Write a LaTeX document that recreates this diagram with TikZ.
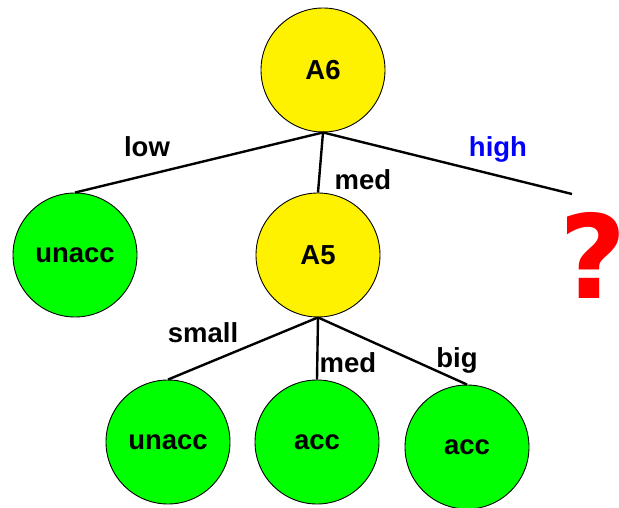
\documentclass[tikz,border=0pt]{standalone}
\usepackage{fontspec}
\setmainfont{Liberation Sans}
\newfontfamily\qfont{DejaVu Sans}
\begin{document}
\begin{tikzpicture}[x=1pt,y=-1pt,
  every node/.style={font=\bfseries\fontsize{27.5}{27.5}\selectfont},
  attr/.style={circle,draw=black,line width=0.9pt,fill=yellow,minimum size=124pt,inner sep=0pt},
  leaf/.style={circle,draw=black,line width=0.9pt,fill=green,minimum size=124pt,inner sep=0pt},
  edge/.style={draw=black,line width=2.4pt},
  lbl/.style={inner sep=0pt}]
\useasboundingbox (0,0) rectangle (619,508);
\node[attr] (a6) at (323,70) {A6};
\node[leaf] (u1) at (75,255) {unacc};
\node[attr] (a5) at (318,255) {A5};
\coordinate (hi) at (572,194);
\node[leaf] (u2) at (168,442) {unacc};
\node[leaf] (c1) at (317,442) {acc};
\node[leaf] (c2) at (467,447) {acc};
\draw[edge] (a6.south) -- (u1.north);
\draw[edge] (a6.south) -- (a5.north);
\draw[edge] (a6.south) -- (hi);
\draw[edge] (a5.south) -- (u2.north);
\draw[edge] (a5.south) -- (c1.north);
\draw[edge] (a5.south) -- (c2.north);
\node[lbl] (llow) at (147,147) {low};
\node[lbl] (lmed1) at (363,180) {med};
\node[lbl,text=blue] (lhigh) at (498,149) {high};
\node[lbl] (lsmall) at (203,333) {small};
\node[lbl] (lmed2) at (348,363) {med};
\node[lbl] (lbig) at (457,360) {big};
\node[lbl,text=red,font=\qfont\bfseries\fontsize{116}{116}\selectfont] (q) at (593,255) {?};
\end{tikzpicture}
\end{document}
